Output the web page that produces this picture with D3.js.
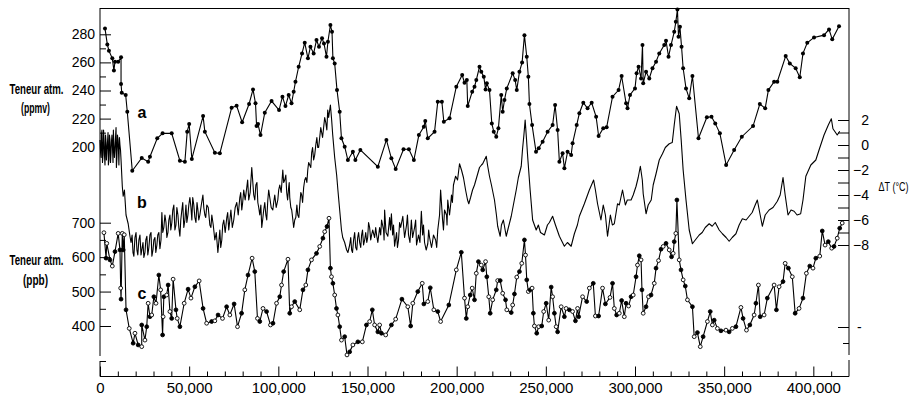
<!DOCTYPE html>
<html><head><meta charset="utf-8">
<script src="https://cdn.jsdelivr.net/npm/d3@7"></script>
<style>body{margin:0;background:#fff}svg{display:block}text{font-family:"Liberation Sans",Arial,sans-serif;fill:#000}</style>
</head><body><svg id="chart" width="910" height="400"></svg>
<script>
// ---- axis ticks (age in thousands of years) ----
const ageTicks=[0,50,100,150,200,250,300,350,400];
const ageMinor=[10,20,30,40,60,70,80,90,110,120,130,140,160,170,180,190,210,220,230,240,260,270,280,290,310,320,330,340,360,370,380,390,410];
const co2Ticks=[200,220,240,260,280];
const co2Minor=[210,230,250,270];
const ch4Ticks=[400,500,600,700];
const ch4Minor=[450,550,650];
const tTicks=[-8,-6,-4,-2,0,2];
const tMinor=[-7,-5,-3,-1,1];
const seriesLabels=["a","b","c"];

// ---- a : CO2 (ppmv) [age kyr, value] ----
const co2Data=[[2.8,284.2],[4.1,272.8],[5.0,268.3],[6.9,262.9],[7.8,254.3],[8.4,260.5],[10.2,260.5],[11.8,263.6],[11.8,244.6],[12.2,238.4],[14.4,236.8],[15.3,224.9],[18.1,182.9],[23.4,192],[27.0,189.3],[28.0,192.9],[32.1,206],[35.1,209.5],[40.2,209.5],[44.8,190],[47.6,189.3],[48.9,210.7],[50.0,216.1],[51.5,191.3],[57.8,221.8],[58.8,210.7],[64.4,195.7],[67.2,195.3],[73.8,227.7],[76.6,229.2],[79.7,217.4],[83.6,230.4],[85.8,240.8],[87.2,230.9],[87.8,214.7],[88.6,216.1],[90.0,208.3],[92.4,224.2],[96.2,232.5],[100.4,226.1],[102.3,235.6],[104.0,228.9],[105.8,236.8],[107.4,230.9],[108.6,239.1],[109.6,246.2],[111.4,256.9],[113.3,266.4],[114.8,274],[116.6,262.9],[118.0,271.1],[119.8,266.4],[121.4,275.9],[122.8,271.1],[124.5,277.1],[125.6,273.5],[127.0,264],[127.8,274.7],[129.2,286.6],[130.1,281.8],[130.6,262.9],[131.6,259.3],[132.9,240.3],[134.4,224.9],[135.4,206],[137.2,200],[139.0,190.5],[141.8,196.4],[143.2,190.5],[146.0,197.7],[155.8,185.8],[160.6,204.8],[163.4,191.7],[165.8,184.1],[170.2,198.2],[173.2,198.2],[176.0,190.5],[178.8,208.3],[181.6,214.2],[182.4,218.3],[183.8,206],[187.6,210.7],[189.4,232],[191.7,232],[192.8,217.8],[196.0,220.2],[199.8,242.7],[203.1,251],[204.4,245.5],[205.7,247.4],[206.2,228.9],[208.7,239.1],[210.0,242.7],[211.0,247.4],[212.8,256.9],[213.8,253.3],[215.2,249.8],[216.2,240.8],[216.9,245.1],[218.4,240.3],[219.7,216.6],[220.8,210.7],[222.2,207.1],[223.4,213.1],[225.0,236.8],[225.8,224.9],[226.8,233.2],[228.1,241.5],[231.4,252.2],[232.8,247.4],[233.7,240.3],[235.2,253.3],[236.7,260],[238.0,279.4],[239.3,264],[240.2,249.8],[240.8,230.4],[242.3,215.4],[244.5,196.4],[246.0,198.9],[248.2,203.6],[251.0,210.7],[253.8,215.4],[255.2,229.7],[256.6,211.9],[257.6,189.3],[259.4,195.3],[260.4,184.6],[262.2,196.4],[264.2,194.1],[265.0,202.4],[267.3,215.4],[268.8,223.8],[271.0,231.3],[273.4,227.3],[275.7,231.3],[278.2,221.3],[279.6,207.6],[282.2,213.1],[284.1,213.8],[287.4,235.6],[290.8,240.3],[292.5,250.3],[295.0,230.9],[295.8,227.3],[297.2,236.8],[300.0,241.5],[300.9,252.2],[302.0,256.9],[303.4,248.6],[304.2,272.3],[304.6,245.1],[306.2,253.3],[308.0,248.6],[309.8,255.8],[311.8,260.5],[313.6,266.4],[316.4,272.3],[317.4,275.4],[318.8,264],[320.2,272.3],[322.0,281.8],[322.9,288.9],[323.8,297.7],[324.4,278.2],[325.2,285.3],[326.1,271.1],[327.0,255.8],[328.6,241.5],[330.4,234.4],[332.2,250.3],[335.6,206],[340.3,220.9],[342.9,221.3],[345.0,216.6],[347.6,209.5],[351.1,187],[355.6,197.7],[359.9,207.1],[366.2,214.7],[370.0,230.4],[373.0,227.3],[374.8,240.3],[378.0,246.2],[379.8,246.2],[384.5,264.5],[386.8,259.3],[390.1,255.8],[392.4,249.4],[394.2,266.4],[396.6,274],[400.4,277.8],[406.0,279.4],[408.8,283.5],[410.6,276.4],[414.4,285.8]];

// ---- b : temperature anomaly (°C) [age kyr, value] ----
const tempData=[[0.0,0.4],[0.6,-1.0],[1.1,1.2],[1.7,-0.8],[2.2,0.6],[2.8,-1.6],[3.4,0.2],[3.9,-0.4],[4.5,1.0],[5.0,-1.2],[5.6,0.4],[6.2,-0.6],[6.7,0.8],[7.3,-1.4],[7.8,0.0],[8.4,-0.4],[9.0,1.4],[9.5,-1.0],[10.1,0.4],[10.6,-1.6],[11.2,0.0],[11.8,-1.2],[12.5,-3.3],[13.0,-4.1],[13.7,-3.6],[14.6,-5.6],[15.8,-6.3],[16.8,-7.3],[17.4,-7.8],[18.5,-8.6],[19.6,-7.4],[20.7,-8.4],[21.8,-7.6],[23.0,-8.8],[24.1,-7.8],[25.2,-8.6],[26.3,-7.3],[27.4,-8.2],[28.6,-7.0],[29.7,-8.4],[30.8,-7.4],[31.9,-8.0],[33.0,-7.0],[34.2,-7.6],[34.7,-5.4],[35.8,-6.6],[37.0,-6.2],[38.1,-7.0],[39.2,-5.6],[40.3,-6.2],[41.4,-4.8],[42.6,-6.4],[43.7,-5.6],[44.8,-7.3],[45.9,-5.2],[47.0,-6.6],[48.2,-4.8],[49.3,-5.6],[50.4,-4.2],[51.5,-6.0],[52.6,-4.8],[53.8,-6.2],[54.9,-5.2],[56.0,-5.6],[57.7,-4.0],[58.8,-5.6],[59.9,-4.8],[61.6,-6.4],[62.7,-5.6],[64.4,-7.6],[66.1,-8.6],[67.2,-6.8],[68.3,-7.6],[69.4,-6.0],[71.1,-5.8],[72.2,-6.8],[73.4,-5.2],[75.0,-6.0],[76.7,-4.6],[78.4,-4.2],[79.5,-5.2],[80.6,-3.6],[82.3,-3.4],[83.4,-4.4],[85.1,-1.8],[86.2,-4.0],[87.4,-3.2],[88.5,-4.6],[89.6,-5.6],[90.7,-6.6],[91.8,-5.2],[93.0,-5.6],[94.1,-4.4],[95.2,-4.2],[96.9,-5.2],[98.0,-4.0],[99.7,-4.4],[100.8,-3.2],[102.5,-2.0],[103.6,-2.8],[104.7,-3.8],[105.8,-3.4],[106.4,-4.2],[107.5,-5.2],[108.6,-6.6],[109.8,-5.8],[110.9,-5.6],[112.0,-4.8],[113.1,-4.0],[114.2,-3.4],[115.4,-2.6],[116.5,-2.0],[117.6,-1.6],[118.7,-0.6],[119.8,-1.2],[121.0,0.0],[122.1,-0.2],[123.2,0.6],[124.3,1.0],[125.4,1.4],[126.6,1.8],[127.7,2.8],[128.2,2.2],[129.2,3.2],[129.9,2.0],[130.5,0.8],[131.6,-1.0],[132.7,-2.4],[133.4,-3.6],[134.4,-5.2],[135.4,-6.8],[136.1,-7.4],[137.2,-7.8],[138.3,-8.4],[139.0,-8.6],[140.0,-8.0],[141.1,-8.4],[142.2,-7.6],[143.4,-8.2],[144.5,-7.4],[145.6,-7.8],[146.7,-7.2],[147.8,-8.0],[149.0,-7.0],[150.1,-7.4],[151.2,-6.6],[152.3,-7.2],[152.9,-6.8],[154.0,-7.4],[155.1,-7.2],[155.8,-7.8],[156.8,-6.6],[157.9,-6.0],[159.0,-6.8],[159.6,-5.2],[160.4,-7.0],[161.4,-7.3],[162.4,-5.8],[163.4,-5.5],[164.1,-7.2],[165.2,-8.1],[166.3,-7.0],[167.4,-7.6],[168.6,-6.6],[169.8,-5.7],[170.8,-7.4],[171.9,-6.4],[173.0,-7.2],[174.6,-6.0],[175.3,-7.4],[176.4,-6.6],[177.5,-8.0],[178.6,-7.2],[180.2,-5.3],[180.9,-7.2],[182.0,-7.8],[183.8,-7.9],[184.8,-7.4],[185.9,-8.2],[187.0,-7.2],[188.2,-7.6],[189.4,-6.8],[190.4,-5.6],[191.0,-3.6],[192.1,-6.0],[193.2,-5.2],[194.3,-5.6],[195.0,-4.4],[196.0,-5.6],[197.1,-4.0],[198.2,-3.2],[199.4,-2.5],[200.5,-2.8],[201.6,-1.5],[202.7,-2.0],[203.8,-2.6],[205.0,-3.6],[206.1,-4.4],[206.8,-4.7],[207.8,-4.2],[208.9,-3.6],[210.0,-3.2],[211.8,-2.3],[212.8,-1.8],[213.9,-1.6],[214.6,-1.5],[215.6,-1.2],[216.6,-0.9],[217.3,-1.6],[218.4,-2.5],[219.5,-3.2],[221.2,-4.4],[222.3,-5.6],[223.0,-6.5],[224.4,-7.3],[225.1,-6.4],[226.2,-6.0],[227.8,-7.3],[229.0,-6.6],[230.6,-5.7],[231.8,-4.8],[233.4,-3.6],[234.6,-2.6],[236.2,-1.7],[236.9,-0.4],[237.7,0.8],[238.4,2.0],[239.1,0.6],[239.8,-0.9],[241.2,-3.6],[242.6,-6.0],[244.6,-6.8],[245.8,-6.4],[247.0,-7.0],[249.2,-7.2],[250.9,-6.4],[252.0,-6.2],[253.8,-5.7],[255.4,-6.4],[257.6,-7.3],[260.4,-8.1],[262.1,-7.8],[264.2,-8.1],[266.0,-7.1],[267.7,-6.4],[268.8,-5.7],[271.6,-4.7],[274.4,-3.6],[276.8,-2.8],[277.8,-3.6],[279.0,-4.7],[280.9,-6.0],[282.2,-4.8],[283.4,-5.6],[284.6,-7.3],[286.2,-5.6],[287.3,-6.4],[288.4,-6.3],[290.2,-4.7],[291.2,-4.8],[293.0,-3.6],[294.6,-4.8],[295.7,-4.4],[297.8,-4.4],[299.0,-4.0],[300.6,-3.3],[301.8,-2.6],[303.0,-1.7],[304.1,-2.8],[304.6,-3.9],[306.2,-5.5],[307.4,-4.8],[309.1,-4.4],[310.2,-3.2],[311.8,-2.3],[313.6,-1.2],[315.4,-0.7],[317.0,-0.2],[319.2,0.1],[320.9,0.2],[322.0,1.6],[323.3,3.1],[324.8,2.5],[325.9,0.4],[327.0,-2.0],[328.6,-4.4],[330.4,-6.8],[332.2,-7.9],[333.8,-7.6],[336.0,-7.2],[337.7,-7.0],[339.4,-6.6],[341.6,-6.3],[343.3,-6.5],[345.0,-6.2],[347.2,-6.8],[349.0,-7.1],[351.1,-7.4],[352.8,-7.7],[354.5,-7.4],[356.6,-7.1],[358.4,-6.4],[360.2,-5.9],[362.3,-6.0],[364.0,-5.7],[365.7,-5.4],[367.4,-4.8],[368.6,-4.4],[370.2,-5.6],[371.4,-6.5],[373.0,-5.6],[375.2,-5.2],[377.4,-5.0],[379.8,-4.5],[381.4,-4.0],[383.0,-2.6],[384.2,-4.0],[385.8,-5.6],[387.5,-5.2],[389.2,-5.3],[390.9,-5.6],[392.9,-5.5],[394.2,-4.4],[395.8,-2.5],[398.6,-1.6],[401.4,-1.2],[403.2,-0.4],[406.0,0.8],[408.4,1.6],[410.1,2.1],[411.0,1.3],[413.4,0.8],[414.8,1.1]];
// finer short-term fluctuations of b read from the dense noisy stretches
const tempDetail=[[0.3,-0.6],[0.8,0.8],[1.4,-1.4],[2.0,1.2],[2.5,-0.8],[3.1,0.8],[3.6,-1.2],[4.2,0.2],[4.7,-1.6],[5.3,0.8],[5.9,-1.4],[6.4,0.2],[7.0,-0.2],[7.5,1.2],[8.1,-1.0],[8.7,0.6],[9.2,-1.8],[9.8,0.8],[10.4,-0.6],[10.9,0.6],[11.5,-0.4],[18.0,-7.2],[19.0,-8.9],[20.2,-7.0],[21.2,-8.8],[22.4,-7.2],[24.6,-9.0],[25.7,-7.6],[26.8,-8.8],[28.0,-7.2],[29.1,-8.9],[30.2,-7.6],[31.3,-8.6],[32.4,-7.2],[33.6,-8.3],[35.2,-7.0],[36.4,-5.6],[37.5,-7.4],[38.6,-6.0],[39.7,-6.8],[40.8,-5.2],[42.0,-6.8],[43.1,-5.0],[44.2,-6.6],[45.3,-6.0],[46.4,-4.6],[47.6,-6.0],[48.7,-6.2],[49.8,-4.8],[51.0,-5.0],[52.0,-4.2],[53.2,-5.8],[54.4,-4.6],[55.4,-6.0],[56.8,-4.8],[58.2,-5.0],[59.3,-5.8],[60.7,-5.0],[62.2,-6.6],[63.5,-6.4],[65.2,-7.0],[66.6,-7.8],[67.7,-8.2],[68.8,-6.4],[70.2,-7.0],[71.6,-5.4],[72.8,-6.0],[74.2,-6.6],[75.8,-5.0],[77.5,-5.6],[78.9,-3.8],[80.0,-4.6],[81.4,-4.4],[82.8,-2.8],[84.2,-3.8],[85.6,-2.8],[86.8,-4.4],[88.0,-3.0],[89.0,-5.0],[90.2,-4.8],[91.2,-6.0],[92.4,-4.6],[93.5,-6.0],[94.6,-3.6],[96.0,-5.0],[97.4,-4.6],[98.8,-5.0],[100.2,-3.6],[101.6,-3.8],[103.0,-3.0],[104.2,-2.4],[105.2,-4.4],[106.1,-3.0],[107.0,-5.0],[108.0,-5.8],[109.2,-6.0],[110.4,-4.8],[111.5,-5.8],[112.6,-3.8],[113.6,-4.6],[114.8,-2.8],[116.0,-3.0],[117.0,-1.4],[118.2,-1.8],[119.2,-0.2],[120.4,-0.8],[121.6,0.6],[122.6,-0.2],[123.8,1.4],[124.8,0.6],[126.0,2.2],[127.2,1.2],[140.6,-7.4],[141.6,-8.6],[142.8,-7.0],[144.0,-8.4],[145.0,-7.0],[146.2,-8.2],[147.2,-6.8],[148.4,-7.6],[149.6,-7.8],[150.6,-6.2],[151.8,-7.6],[154.6,-6.6],[157.4,-7.2],[159.3,-7.6],[162.9,-6.8],[164.6,-6.4],[166.8,-8.2],[168.0,-6.2],[170.3,-6.6],[172.4,-5.6],[173.8,-7.8],[177.0,-6.0],[179.4,-7.8],[181.4,-6.4],[182.9,-8.4],[184.3,-6.8],[186.4,-7.8],[188.8,-8.2],[192.6,-6.8],[194.6,-6.4],[196.6,-4.8],[197.6,-4.6]];

// ---- c : CH4 (ppb) [age kyr, value] ----
const ch4Data=[[2.2,671],[3.4,597],[3.8,640],[5.6,592],[6.9,574],[8.4,616],[10.2,669],[11.2,621],[11.6,510],[11.8,478],[12.5,669],[13.0,621],[13.6,665],[14.6,447],[16.4,393],[18.6,350],[19.6,379],[21.4,345],[23.4,340],[23.4,403],[25.2,359],[26.2,398],[27.0,466],[28.0,427],[29.0,432],[30.2,485],[31.4,466],[33.0,548],[34.0,505],[35.1,374],[35.4,427],[35.8,485],[37.4,490],[38.2,519],[39.2,442],[40.2,422],[41.0,536],[42.6,447],[43.3,422],[44.8,398],[47.2,466],[49.4,507],[51.0,481],[53.2,514],[55.6,531],[57.8,451],[59.8,408],[62.6,413],[64.4,415],[66.2,432],[68.7,422],[71.0,456],[72.8,432],[75.2,464],[77.1,398],[79.4,437],[81.2,505],[83.0,548],[85.3,597],[86.8,558],[88.3,422],[89.6,413],[91.4,451],[93.4,442],[95.6,403],[97.0,408],[99.0,466],[100.8,485],[101.8,519],[103.0,558],[105.4,594],[106.4,437],[107.4,456],[109.2,471],[112.0,447],[113.8,505],[115.4,519],[116.6,563],[118.6,592],[121.4,611],[123.2,631],[125.0,655],[126.0,674],[127.3,689],[128.4,713],[129.2,568],[129.8,543],[130.6,524],[131.6,490],[132.6,451],[133.4,432],[134.4,398],[135.4,359],[137.2,369],[138.5,316],[140.0,325],[141.8,345],[144.6,354],[147.1,354],[149.4,403],[151.2,413],[152.7,447],[154.0,403],[155.8,383],[156.8,403],[157.8,379],[160.2,374],[163.4,403],[165.8,420],[169.3,478],[172.6,456],[174.2,400],[175.4,466],[178.2,500],[180.7,524],[181.6,464],[183.8,471],[185.2,511],[187.2,447],[189.4,442],[191.0,413],[195.6,461],[199.8,563],[202.6,614],[204.4,481],[205.4,422],[206.2,456],[207.6,490],[208.7,510],[210.0,476],[211.0,553],[212.2,587],[213.8,577],[214.6,563],[216.2,587],[216.9,543],[218.0,485],[218.8,437],[220.2,476],[222.2,505],[223.0,532],[224.4,532],[225.8,495],[227.4,476],[228.1,447],[230.6,439],[231.4,461],[232.4,493],[233.7,542],[235.2,558],[236.5,582],[238.0,650],[238.6,606],[239.3,534],[240.2,500],[241.2,505],[242.3,510],[243.0,437],[243.6,400],[244.9,379],[246.0,398],[247.7,400],[248.8,442],[250.2,466],[251.6,417],[253.0,513],[253.8,485],[254.8,437],[255.8,398],[256.6,383],[258.6,456],[260.4,427],[261.4,451],[263.2,447],[265.0,442],[266.6,415],[267.8,451],[268.4,427],[270.6,485],[272.9,471],[274.4,510],[276.6,524],[277.8,429],[279.6,429],[281.8,510],[283.4,464],[286.0,483],[287.4,524],[288.4,451],[289.7,432],[291.2,437],[292.5,474],[294.0,427],[295.0,466],[296.4,458],[297.8,485],[299.0,490],[300.6,543],[301.4,577],[302.4,604],[303.4,592],[303.9,505],[304.6,437],[306.2,456],[307.6,485],[309.0,490],[310.8,524],[311.8,568],[313.2,590],[314.6,623],[315.8,631],[317.4,640],[319.2,621],[320.5,601],[321.4,611],[322.0,645],[322.9,669],[323.5,766],[324.8,592],[325.8,563],[327.0,534],[328.2,516],[329.4,476],[332.2,456],[333.2,369],[335.0,381],[336.6,340],[338.2,369],[340.6,413],[342.2,442],[343.4,403],[344.4,417],[346.2,393],[348.2,386],[351.0,388],[352.8,383],[354.6,393],[356.6,398],[359.4,454],[360.6,422],[362.5,388],[364.4,403],[366.8,432],[367.8,466],[369.2,519],[370.2,427],[372.4,432],[374.2,481],[378.0,519],[379.3,447],[380.8,514],[383.0,529],[384.2,582],[386.0,568],[388.2,543],[389.8,437],[392.0,451],[394.2,481],[396.1,553],[398.0,574],[399.8,568],[401.4,597],[403.6,603],[405.0,676],[406.6,635],[408.4,645],[410.3,626],[411.6,631],[413.4,655],[414.8,684],[416.2,699]];

const tempSeries=tempData.concat(tempDetail).sort((p,q)=>p[0]-q[0]);

const svg=d3.select("#chart");
const xL=100,xR=849,yTop=8,yBot=376.5;
const x=d3.scaleLinear().domain([0,420]).range([xL,xR]);
const yC=d3.scaleLinear().domain([200,280]).range([146.7,34.3]);
const yT=d3.scaleLinear().domain([-8,2]).range([245,120]);
const yM=d3.scaleLinear().domain([400,700]).range([326,222.7]);
const FONT='"Liberation Sans",Arial,sans-serif';

function styleAxis(g,size){
  g.attr("font-family",FONT).attr("font-size",size);
  g.select(".domain").remove();
  g.selectAll("line").attr("stroke","#000");
  g.selectAll("text").attr("fill","#000");
}

// frame lines
const frame=svg.append("g").attr("stroke","#000").attr("stroke-width",1).attr("fill","none");
frame.append("line").attr("x1",xL).attr("x2",xR).attr("y1",yTop+0.5).attr("y2",yTop+0.5);
frame.append("line").attr("x1",xL).attr("x2",xR).attr("y1",yBot).attr("y2",yBot);
frame.append("line").attr("x1",xL).attr("x2",xL).attr("y1",yTop).attr("y2",356);
frame.append("line").attr("x1",xL).attr("x2",xL).attr("y1",361).attr("y2",yBot);
frame.append("line").attr("x1",xL).attr("x2",xL+6).attr("y1",361.5).attr("y2",361.5);
frame.append("line").attr("x1",xR).attr("x2",xR).attr("y1",yTop).attr("y2",355);
frame.append("line").attr("x1",xR).attr("x2",xR).attr("y1",360).attr("y2",yBot);
frame.append("line").attr("x1",xR-11).attr("x2",xR).attr("y1",327.5).attr("y2",327.5);
frame.append("line").attr("x1",xR-6).attr("x2",xR).attr("y1",343.5).attr("y2",343.5);

// bottom axis
const gB=svg.append("g").attr("transform",`translate(0,${yBot})`)
  .call(d3.axisBottom(x).tickValues(ageTicks).tickSize(-10).tickPadding(6).tickFormat(d=>d3.format(",")(d*1000)));
styleAxis(gB,15);
const gBm=svg.append("g").attr("transform",`translate(0,${yBot})`)
  .call(d3.axisBottom(x).tickValues(ageMinor).tickSize(-5).tickFormat(""));
styleAxis(gBm,15);

// left CO2 axis
const gC=svg.append("g").attr("transform",`translate(${xL},0)`)
  .call(d3.axisLeft(yC).tickValues(co2Ticks).tickSize(-11).tickPadding(5));
styleAxis(gC,14);
const gCm=svg.append("g").attr("transform",`translate(${xL},0)`)
  .call(d3.axisLeft(yC).tickValues(co2Minor).tickSize(-6).tickFormat(""));
styleAxis(gCm,14);

// left CH4 axis
const gM=svg.append("g").attr("transform",`translate(${xL},0)`)
  .call(d3.axisLeft(yM).tickValues(ch4Ticks).tickSize(-11).tickPadding(5));
styleAxis(gM,14);
const gMm=svg.append("g").attr("transform",`translate(${xL},0)`)
  .call(d3.axisLeft(yM).tickValues(ch4Minor).tickSize(-6).tickFormat(""));
styleAxis(gMm,14);

// right temperature axis
const gT=svg.append("g").attr("transform",`translate(${xR},0)`)
  .call(d3.axisRight(yT).tickValues(tTicks).tickSize(-11).tickFormat(d3.format("d")));
styleAxis(gT,14);
gT.selectAll("text").attr("text-anchor","end").attr("x",20);
const gTm=svg.append("g").attr("transform",`translate(${xR},0)`)
  .call(d3.axisRight(yT).tickValues(tMinor).tickSize(-11).tickFormat(""));
styleAxis(gTm,14);

// axis titles (condensed by horizontal scaling)
const t=svg.append("g").attr("font-family",FONT).attr("fill","#000");
function label(txt,cx,cy,width,size,weight){
  const el=t.append("text").attr("text-anchor","middle")
   .attr("font-size",size).attr("font-weight",weight||"normal").text(txt);
  const w=el.node().getComputedTextLength();
  el.attr("transform",`translate(${cx},${cy}) scale(${width/w},1)`);
}
label("Teneur atm.",36.5,94,54,14,"bold");
label("(ppmv)",35.5,112.5,29,14,"bold");
label("Teneur atm.",36.5,265,54,14,"bold");
label("(ppb)",35.5,284.5,25,14,"bold");
label("ΔT (°C)",893.5,191,30,13,"normal");
t.append("text").attr("x",857).attr("y",332).attr("font-size",14).text("-");

// series labels
const labY=[118,208,299];
seriesLabels.forEach((s,i)=>{
  t.append("text").attr("x",142).attr("y",labY[i]).attr("text-anchor","middle")
   .attr("font-size",16).attr("font-weight","bold").text(s);
});

// lines
const lineC=d3.line().x(d=>x(d[0])).y(d=>yC(d[1]));
const lineT=d3.line().x(d=>x(d[0])).y(d=>yT(d[1]));
const lineM=d3.line().x(d=>x(d[0])).y(d=>yM(d[1]));
svg.append("path").datum(tempSeries).attr("d",lineT).attr("fill","none").attr("stroke","#000").attr("stroke-width",1.1).attr("stroke-linejoin","round");
svg.append("path").datum(co2Data).attr("d",lineC).attr("fill","none").attr("stroke","#000").attr("stroke-width",1.1);
svg.append("path").datum(ch4Data).attr("d",lineM).attr("fill","none").attr("stroke","#000").attr("stroke-width",1.1);

svg.append("g").selectAll("circle").data(co2Data).join("circle")
  .attr("cx",d=>x(d[0])).attr("cy",d=>yC(d[1])).attr("r",2).attr("fill","#000");
svg.append("g").selectAll("circle").data(ch4Data).join("circle")
  .attr("cx",d=>x(d[0])).attr("cy",d=>yM(d[1])).attr("r",1.9)
  .attr("fill",(d,i)=>i%2?"#000":"#fff").attr("stroke","#000").attr("stroke-width",0.9);
</script></body></html>
